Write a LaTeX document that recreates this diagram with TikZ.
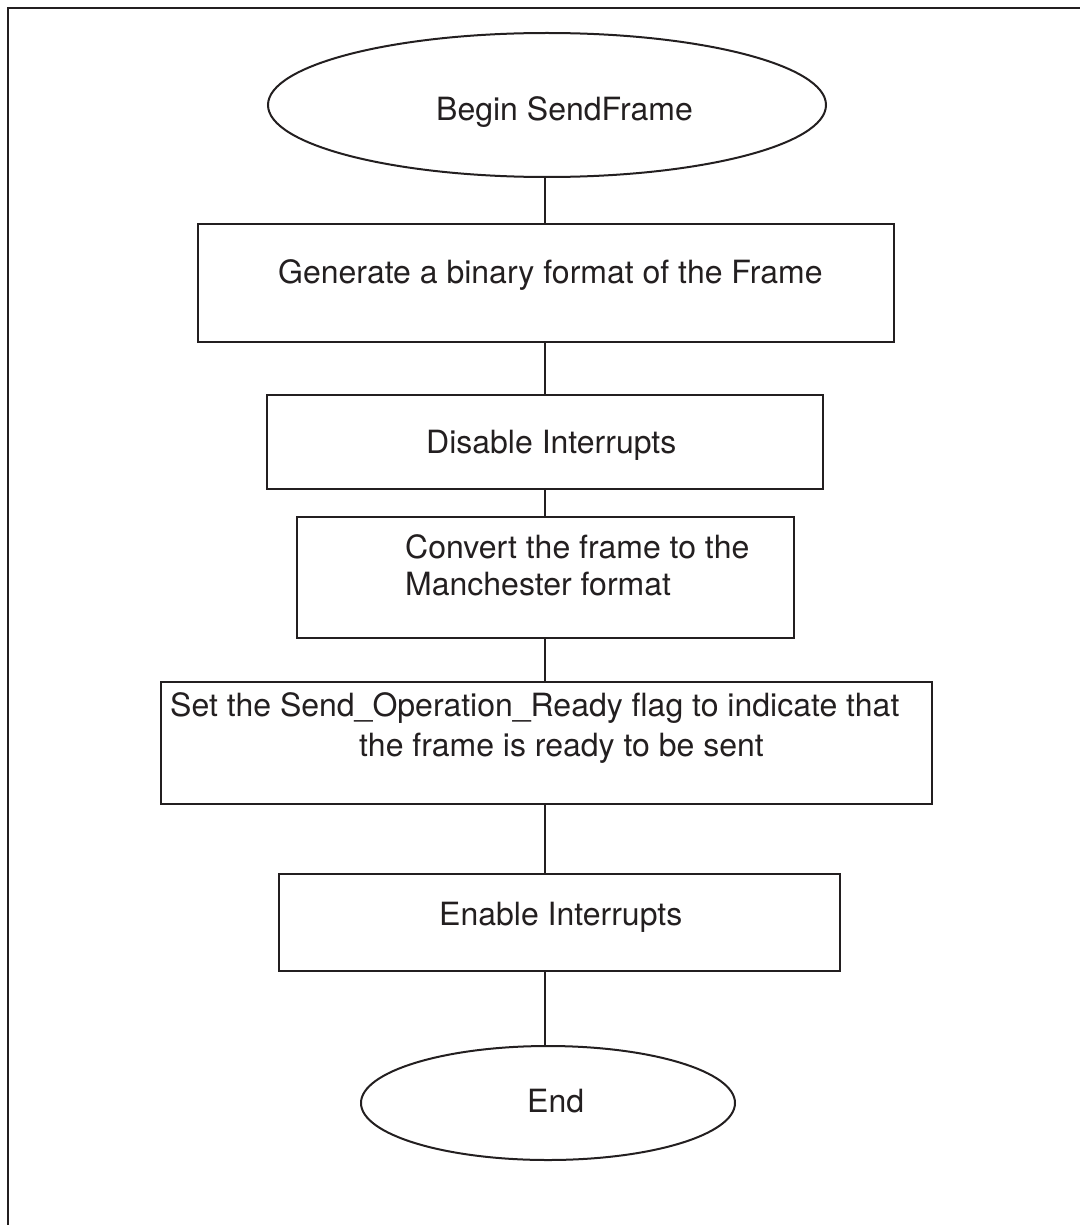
\documentclass[tikz,border=0pt]{standalone}
\usepackage{fontspec}
\setmainfont{TeX Gyre Heros}
\usetikzlibrary{shapes.geometric}
\definecolor{ink}{RGB}{35,31,32}
\begin{document}
\begin{tikzpicture}[x=1pt,y=-1pt,
  outline/.style={draw=ink,line width=2pt,inner sep=0pt},
  stepbox/.style={outline,rectangle},
  terminal/.style={outline,ellipse},
  flow/.style={draw=ink,line width=1.8pt},
  caption/.style={inner sep=0pt,anchor=base west,text=ink,
    font=\fontsize{32}{38}\selectfont}]
  \useasboundingbox (0,0) rectangle (1080,1225);
  % open frame (left and top edges)
  \draw[ink,line width=2.2pt] (8,1225) -- (8,8) -- (1080,8);

  % shapes
  \node[terminal,minimum width=558pt,minimum height=144pt] (begin) at (547,105) {};
  \node[stepbox,minimum width=696pt,minimum height=118pt] (gen) at (546,283) {};
  \node[stepbox,minimum width=556pt,minimum height=94pt] (dis) at (545,442) {};
  \node[stepbox,minimum width=497pt,minimum height=121pt] (conv) at (545.5,577.5) {};
  \node[stepbox,minimum width=771pt,minimum height=122pt] (flag) at (546.5,743) {};
  \node[stepbox,minimum width=561pt,minimum height=97pt] (ena) at (559.5,922.5) {};
  \node[terminal,minimum width=374pt,minimum height=114pt] (end) at (548,1103) {};

  % texts
  \node[caption] (tbegin) at (436,121) {Begin SendFrame};
  \node[caption] (tgen) at (278,283) {Generate a binary format of the Frame};
  \node[caption] (tdis) at (426,453) {Disable Interrupts};
  \node[caption] (tconv1) at (405,558) {Convert the frame to the};
  \node[caption] (tconv2) at (405,595) {Manchester format};
  \node[caption] (tflag1) at (170,716) {Set the Send\_Operation\_Ready flag to indicate that};
  \node[caption] (tflag2) at (359,756) {the frame is ready to be sent};
  \node[caption] (tena) at (439,925) {Enable Interrupts};
  \node[caption] (tend) at (527,1112) {End};

  % connectors on the common axis
  \coordinate (axis) at (545,0);
  \draw[flow] (axis |- begin.south) -- (axis |- gen.north);
  \draw[flow] (axis |- gen.south) -- (axis |- dis.north);
  \draw[flow] (axis |- dis.south) -- (axis |- conv.north);
  \draw[flow] (axis |- conv.south) -- (axis |- flag.north);
  \draw[flow] (axis |- flag.south) -- (axis |- ena.north);
  \draw[flow] (axis |- ena.south) -- (axis |- end.north);
\end{tikzpicture}
\end{document}
